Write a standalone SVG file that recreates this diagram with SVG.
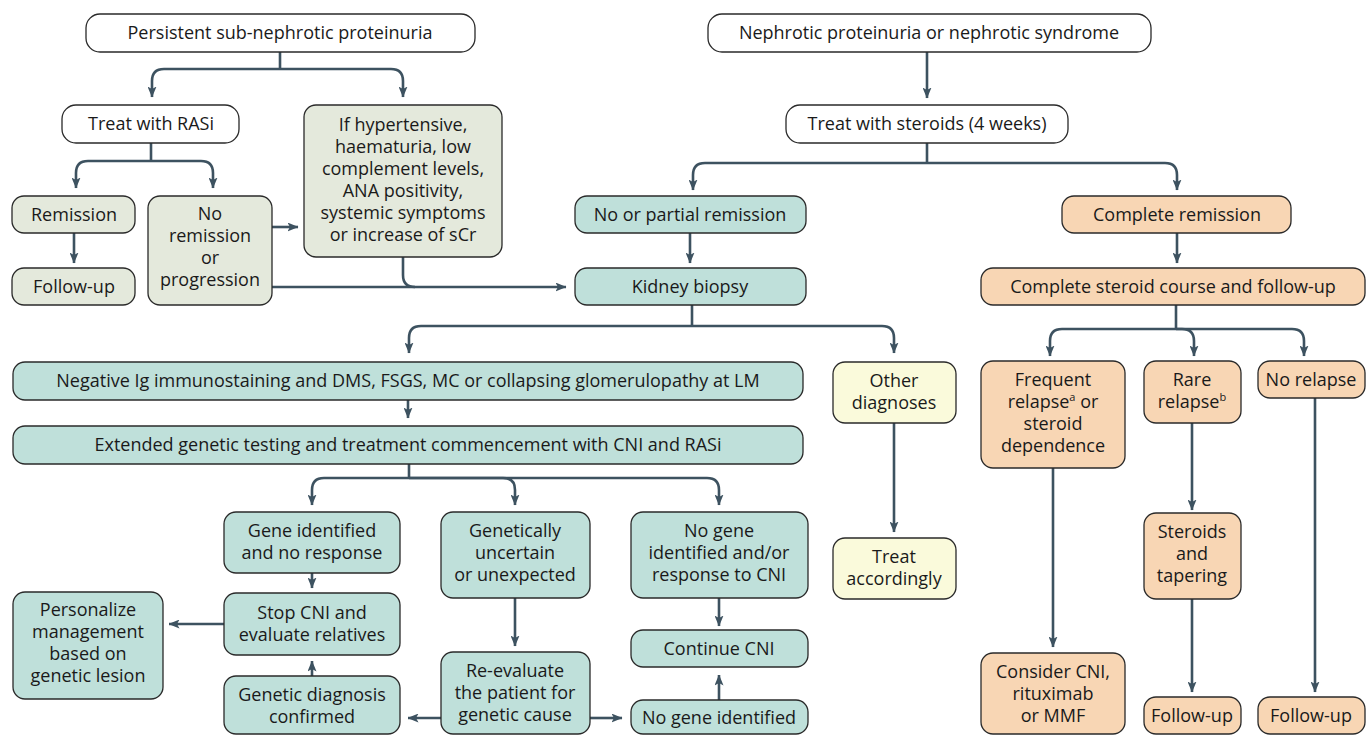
<svg xmlns="http://www.w3.org/2000/svg" width="1368" height="735" viewBox="0 0 1368 735">
<defs>
<marker id="ah" viewBox="0 0 11 9" refX="10.5" refY="4.5" markerWidth="11" markerHeight="9" orient="auto" markerUnits="userSpaceOnUse">
<path d="M0,0 L11,4.5 L0,9 L2.5,4.5 z" fill="#3d5260"/>
</marker>
<style>
.n rect{stroke:#2a2a2a;stroke-width:1.3}
.w rect{fill:#ffffff}
.g rect{fill:#e4e9dc}
.t rect{fill:#bfe0da}
.p rect{fill:#f8d6b4}
.y rect{fill:#fafadb}
.n text{font-family:"Open Sans",Lato,"Liberation Sans",sans-serif;font-size:18px;fill:#1a1a1a;text-anchor:middle}
#connectors path{fill:none;stroke:#3d5260;stroke-width:2.6;marker-end:url(#ah)}
#connectors path.s{marker-end:none}
</style>
</defs>

<g id="connectors">
<path class="s" d="M280,52 V69"/>
<path d="M280,69 H164 Q152,69 152,81 V97"/>
<path d="M280,69 H391 Q403,69 403,81 V97"/>
<path class="s" d="M151,143 V161"/>
<path d="M151,161 H88 Q76,161 76,173 V188"/>
<path d="M151,161 H201 Q213,161 213,173 V188"/>
<path d="M74,233 V263"/>
<path d="M272,227 H298"/>
<path d="M272,287 H566"/>
<path class="s" d="M403,257 V275 Q403,287 415,287"/>
<path d="M927,52 V98"/>
<path class="s" d="M927,143 V163"/>
<path d="M927,163 H705 Q693,163 693,175 V190"/>
<path d="M927,163 H1165 Q1177,163 1177,175 V190"/>
<path d="M690,233 V263"/>
<path d="M1177,233 V263"/>
<path class="s" d="M692,305 V326"/>
<path d="M692,326 H421 Q409,326 409,338 V353"/>
<path d="M692,326 H882 Q894,326 894,338 V353"/>
<path d="M408,400 V418"/>
<path class="s" d="M409,464 V478"/>
<path d="M409,478 H324 Q312,478 312,490 V505"/>
<path d="M409,478 H503 Q515,478 515,490 V505"/>
<path d="M409,478 H707 Q719,478 719,490 V505"/>
<path d="M312,573 V588"/>
<path d="M224,624 H169"/>
<path d="M312,676 V661"/>
<path d="M515,598 V646"/>
<path d="M441,718 H408"/>
<path d="M590,718 H622"/>
<path d="M719,598 V626"/>
<path d="M719,700 V675"/>
<path d="M894,423 V532"/>
<path class="s" d="M1176,305 V329"/>
<path d="M1176,329 H1062 Q1050,329 1050,341 V356"/>
<path d="M1176,329 H1182 Q1194,329 1194,341 V356"/>
<path d="M1176,329 H1292 Q1304,329 1304,341 V356"/>
<path d="M1053,468 V647"/>
<path d="M1192,423 V510"/>
<path d="M1192,599 V692"/>
<path d="M1315,398 V692"/>
</g>

<g id="n-persistent" class="n w"><rect x="86" y="14" width="389" height="38" rx="14"/><text x="280" y="39">Persistent sub-nephrotic proteinuria</text></g>
<g id="n-rasi" class="n w"><rect x="62" y="105" width="177" height="38" rx="14"/><text x="151" y="130">Treat with RASi</text></g>
<g id="n-ifhyp" class="n g"><rect x="304" y="105" width="198" height="152" rx="12"/><text x="403" y="131">If hypertensive,<tspan x="403" dy="22">haematuria, low</tspan><tspan x="403" dy="22">complement levels,</tspan><tspan x="403" dy="22">ANA positivity,</tspan><tspan x="403" dy="22">systemic symptoms</tspan><tspan x="403" dy="22">or increase of sCr</tspan></text></g>
<g id="n-remission" class="n g"><rect x="12" y="196" width="123" height="37" rx="12"/><text x="74" y="221">Remission</text></g>
<g id="n-followup1" class="n g"><rect x="12" y="268" width="123" height="37" rx="12"/><text x="74" y="293">Follow-up</text></g>
<g id="n-noremission" class="n g"><rect x="148" y="196" width="124" height="109" rx="12"/><text x="210" y="220">No<tspan x="210" dy="22">remission</tspan><tspan x="210" dy="22">or</tspan><tspan x="210" dy="22">progression</tspan></text></g>

<g id="n-nephrotic" class="n w"><rect x="708" y="14" width="443" height="38" rx="14"/><text x="929" y="39">Nephrotic proteinuria or nephrotic syndrome</text></g>
<g id="n-steroids" class="n w"><rect x="786" y="105" width="282" height="38" rx="14"/><text x="927" y="130">Treat with steroids (4 weeks)</text></g>
<g id="n-nopartial" class="n t"><rect x="575" y="196" width="231" height="37" rx="12"/><text x="690" y="221">No or partial remission</text></g>
<g id="n-complete" class="n p"><rect x="1062" y="196" width="229" height="37" rx="12"/><text x="1177" y="221">Complete remission</text></g>
<g id="n-biopsy" class="n t"><rect x="575" y="268" width="231" height="37" rx="12"/><text x="690" y="293">Kidney biopsy</text></g>
<g id="n-course" class="n p"><rect x="981" y="268" width="384" height="37" rx="12"/><text x="1173" y="293">Complete steroid course and follow-up</text></g>

<g id="n-negative" class="n t"><rect x="13" y="362" width="790" height="38" rx="12"/><text x="408" y="387">Negative Ig immunostaining and DMS, FSGS, MC or collapsing glomerulopathy at LM</text></g>
<g id="n-other" class="n y"><rect x="833" y="362" width="123" height="61" rx="12"/><text x="894" y="387">Other<tspan x="894" dy="22">diagnoses</tspan></text></g>
<g id="n-extended" class="n t"><rect x="13" y="426" width="790" height="38" rx="12"/><text x="408" y="451">Extended genetic testing and treatment commencement with CNI and RASi</text></g>

<g id="n-geneid" class="n t"><rect x="224" y="512" width="176" height="61" rx="12"/><text x="312" y="537">Gene identified<tspan x="312" dy="22">and no response</tspan></text></g>
<g id="n-uncertain" class="n t"><rect x="441" y="512" width="149" height="86" rx="12"/><text x="515" y="537">Genetically<tspan x="515" dy="22">uncertain</tspan><tspan x="515" dy="22">or unexpected</tspan></text></g>
<g id="n-nogene" class="n t"><rect x="631" y="512" width="177" height="86" rx="12"/><text x="719" y="537">No gene<tspan x="719" dy="22">identified and/or</tspan><tspan x="719" dy="22">response to CNI</tspan></text></g>
<g id="n-stopcni" class="n t"><rect x="224" y="593" width="176" height="62" rx="12"/><text x="312" y="619">Stop CNI and<tspan x="312" dy="22">evaluate relatives</tspan></text></g>
<g id="n-personalize" class="n t"><rect x="13" y="592" width="150" height="107" rx="12"/><text x="88" y="616">Personalize<tspan x="88" dy="22">management</tspan><tspan x="88" dy="22">based on</tspan><tspan x="88" dy="22">genetic lesion</tspan></text></g>
<g id="n-continue" class="n t"><rect x="631" y="630" width="177" height="37" rx="12"/><text x="719" y="655">Continue CNI</text></g>
<g id="n-confirmed" class="n t"><rect x="224" y="676" width="176" height="58" rx="12"/><text x="312" y="701">Genetic diagnosis<tspan x="312" dy="22">confirmed</tspan></text></g>
<g id="n-reevaluate" class="n t"><rect x="441" y="652" width="149" height="82" rx="12"/><text x="515" y="677">Re-evaluate<tspan x="515" dy="22">the patient for</tspan><tspan x="515" dy="22">genetic cause</tspan></text></g>
<g id="n-nogeneid" class="n t"><rect x="631" y="700" width="177" height="34" rx="12"/><text x="719" y="724">No gene identified</text></g>

<g id="n-treat" class="n y"><rect x="833" y="538" width="123" height="61" rx="12"/><text x="894" y="563">Treat<tspan x="894" dy="22">accordingly</tspan></text></g>

<g id="n-frequent" class="n p"><rect x="981" y="361" width="144" height="107" rx="12"/><text x="1053" y="386">Frequent<tspan x="1053" dy="22">relapse<tspan font-size="11" dy="-7">a</tspan><tspan dy="7"> or</tspan></tspan><tspan x="1053" dy="22">steroid</tspan><tspan x="1053" dy="22">dependence</tspan></text></g>
<g id="n-rare" class="n p"><rect x="1144" y="361" width="97" height="62" rx="12"/><text x="1192" y="386">Rare<tspan x="1192" dy="22">relapse<tspan font-size="11" dy="-7">b</tspan></tspan></text></g>
<g id="n-norelapse" class="n p"><rect x="1258" y="361" width="107" height="37" rx="12"/><text x="1311" y="386">No relapse</text></g>
<g id="n-steroidstaper" class="n p"><rect x="1144" y="513" width="97" height="86" rx="12"/><text x="1192" y="538">Steroids<tspan x="1192" dy="22">and</tspan><tspan x="1192" dy="22">tapering</tspan></text></g>
<g id="n-consider" class="n p"><rect x="981" y="653" width="144" height="81" rx="12"/><text x="1053" y="678">Consider CNI,<tspan x="1053" dy="22">rituximab</tspan><tspan x="1053" dy="22">or MMF</tspan></text></g>
<g id="n-followup2" class="n p"><rect x="1144" y="697" width="97" height="37" rx="12"/><text x="1192" y="722">Follow-up</text></g>
<g id="n-followup3" class="n p"><rect x="1258" y="697" width="107" height="37" rx="12"/><text x="1311" y="722">Follow-up</text></g>
</svg>
